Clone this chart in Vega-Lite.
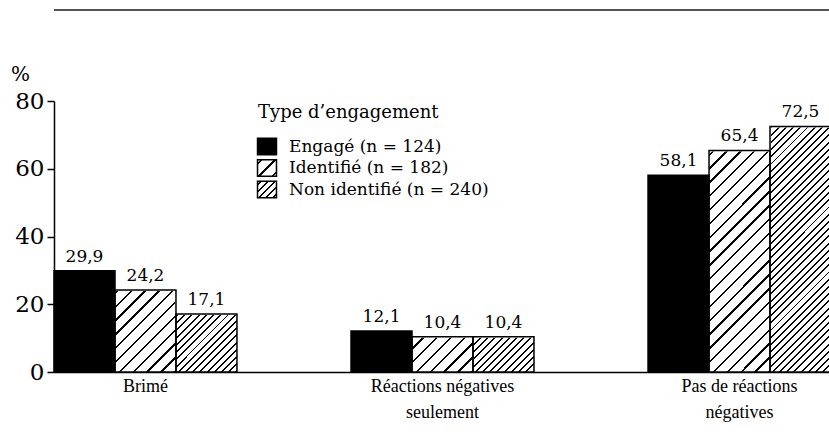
{
  "$schema": "https://vega.github.io/schema/vega-lite/v6.json",
  "width": 777,
  "height": 271,
  "autosize": {"type": "none"},
  "padding": {"left": 54, "top": 101, "right": 0, "bottom": 72},
  "background": "white",
  "config": {
    "view": {"stroke": null},
    "locale": {"number": {"decimal": ",", "thousands": " ", "grouping": [3], "currency": ["", " €"]}}
  },
  "data": {"values": [
    {"cat": "Brimé", "series": "Engagé (n = 124)", "value": 29.9},
    {"cat": "Brimé", "series": "Identifié (n = 182)", "value": 24.2},
    {"cat": "Brimé", "series": "Non identifié (n = 240)", "value": 17.1},
    {"cat": "Réactions négatives seulement", "series": "Engagé (n = 124)", "value": 12.1},
    {"cat": "Réactions négatives seulement", "series": "Identifié (n = 182)", "value": 10.4},
    {"cat": "Réactions négatives seulement", "series": "Non identifié (n = 240)", "value": 10.4},
    {"cat": "Pas de réactions négatives", "series": "Engagé (n = 124)", "value": 58.1},
    {"cat": "Pas de réactions négatives", "series": "Identifié (n = 182)", "value": 65.4},
    {"cat": "Pas de réactions négatives", "series": "Non identifié (n = 240)", "value": 72.5}
  ]},
  "layer": [
    {
      "transform": [{"filter": "datum.series === 'Identifié (n = 182)'"}],
      "mark": {"type": "bar", "fill": {"gradient": "linear", "x1": 0, "y1": 0, "x2": 0.2625, "y2": 1.166, "stops": [
        {"offset": 0, "color": "#fff"},
        {"offset": 0.0346, "color": "#fff"}, {"offset": 0.0346, "color": "#000"}, {"offset": 0.0417, "color": "#000"}, {"offset": 0.0417, "color": "#fff"},
        {"offset": 0.0763, "color": "#fff"}, {"offset": 0.0763, "color": "#000"}, {"offset": 0.0833, "color": "#000"}, {"offset": 0.0833, "color": "#fff"},
        {"offset": 0.1180, "color": "#fff"}, {"offset": 0.1180, "color": "#000"}, {"offset": 0.1250, "color": "#000"}, {"offset": 0.1250, "color": "#fff"},
        {"offset": 0.1596, "color": "#fff"}, {"offset": 0.1596, "color": "#000"}, {"offset": 0.1667, "color": "#000"}, {"offset": 0.1667, "color": "#fff"},
        {"offset": 0.2013, "color": "#fff"}, {"offset": 0.2013, "color": "#000"}, {"offset": 0.2083, "color": "#000"}, {"offset": 0.2083, "color": "#fff"},
        {"offset": 0.2430, "color": "#fff"}, {"offset": 0.2430, "color": "#000"}, {"offset": 0.2500, "color": "#000"}, {"offset": 0.2500, "color": "#fff"},
        {"offset": 0.2846, "color": "#fff"}, {"offset": 0.2846, "color": "#000"}, {"offset": 0.2917, "color": "#000"}, {"offset": 0.2917, "color": "#fff"},
        {"offset": 0.3263, "color": "#fff"}, {"offset": 0.3263, "color": "#000"}, {"offset": 0.3333, "color": "#000"}, {"offset": 0.3333, "color": "#fff"},
        {"offset": 0.3680, "color": "#fff"}, {"offset": 0.3680, "color": "#000"}, {"offset": 0.3750, "color": "#000"}, {"offset": 0.3750, "color": "#fff"},
        {"offset": 0.4096, "color": "#fff"}, {"offset": 0.4096, "color": "#000"}, {"offset": 0.4167, "color": "#000"}, {"offset": 0.4167, "color": "#fff"},
        {"offset": 0.4513, "color": "#fff"}, {"offset": 0.4513, "color": "#000"}, {"offset": 0.4583, "color": "#000"}, {"offset": 0.4583, "color": "#fff"},
        {"offset": 0.4930, "color": "#fff"}, {"offset": 0.4930, "color": "#000"}, {"offset": 0.5000, "color": "#000"}, {"offset": 0.5000, "color": "#fff"},
        {"offset": 0.5346, "color": "#fff"}, {"offset": 0.5346, "color": "#000"}, {"offset": 0.5417, "color": "#000"}, {"offset": 0.5417, "color": "#fff"},
        {"offset": 0.5763, "color": "#fff"}, {"offset": 0.5763, "color": "#000"}, {"offset": 0.5833, "color": "#000"}, {"offset": 0.5833, "color": "#fff"},
        {"offset": 0.6180, "color": "#fff"}, {"offset": 0.6180, "color": "#000"}, {"offset": 0.6250, "color": "#000"}, {"offset": 0.6250, "color": "#fff"},
        {"offset": 0.6596, "color": "#fff"}, {"offset": 0.6596, "color": "#000"}, {"offset": 0.6667, "color": "#000"}, {"offset": 0.6667, "color": "#fff"},
        {"offset": 0.7013, "color": "#fff"}, {"offset": 0.7013, "color": "#000"}, {"offset": 0.7083, "color": "#000"}, {"offset": 0.7083, "color": "#fff"},
        {"offset": 0.7430, "color": "#fff"}, {"offset": 0.7430, "color": "#000"}, {"offset": 0.7500, "color": "#000"}, {"offset": 0.7500, "color": "#fff"},
        {"offset": 0.7846, "color": "#fff"}, {"offset": 0.7846, "color": "#000"}, {"offset": 0.7917, "color": "#000"}, {"offset": 0.7917, "color": "#fff"},
        {"offset": 0.8263, "color": "#fff"}, {"offset": 0.8263, "color": "#000"}, {"offset": 0.8333, "color": "#000"}, {"offset": 0.8333, "color": "#fff"},
        {"offset": 0.8680, "color": "#fff"}, {"offset": 0.8680, "color": "#000"}, {"offset": 0.8750, "color": "#000"}, {"offset": 0.8750, "color": "#fff"},
        {"offset": 0.9096, "color": "#fff"}, {"offset": 0.9096, "color": "#000"}, {"offset": 0.9167, "color": "#000"}, {"offset": 0.9167, "color": "#fff"},
        {"offset": 0.9513, "color": "#fff"}, {"offset": 0.9513, "color": "#000"}, {"offset": 0.9583, "color": "#000"}, {"offset": 0.9583, "color": "#fff"},
        {"offset": 0.9930, "color": "#fff"}, {"offset": 0.9930, "color": "#000"}, {"offset": 1, "color": "#000"}
      ]}},
      "encoding": {
        "x": {"field": "cat", "type": "nominal", "scale": {"domain": ["Brimé", "Réactions négatives seulement", "Pas de réactions négatives"], "paddingInner": 0.384, "paddingOuter": 0},
          "axis": {"title": null, "ticks": false, "labelAngle": 0, "labelFont": "Liberation Serif", "labelFontSize": 18, "labelColor": "black", "labelPadding": 5, "labelLineHeight": 26, "domainColor": "black", "domainWidth": 1.5,
            "labelExpr": "datum.value === 'Réactions négatives seulement' ? ['Réactions négatives', 'seulement'] : datum.value === 'Pas de réactions négatives' ? ['Pas de réactions', 'négatives'] : datum.value"}},
        "xOffset": {"field": "series", "type": "nominal", "scale": {"domain": ["Engagé (n = 124)", "Identifié (n = 182)", "Non identifié (n = 240)"]}},
        "y": {"datum": 0, "type": "quantitative", "scale": {"domain": [0, 80], "nice": false},
          "axis": {"title": "%", "titleAngle": 0, "titleX": -34, "titleY": -27, "titleAlign": "center", "titleBaseline": "middle", "titleFont": "DejaVu Serif", "titleFontSize": 20, "titleFontWeight": "normal", "titleColor": "black",
            "values": [0, 20, 40, 60, 80], "labelFont": "DejaVu Serif", "labelFontSize": 23, "labelColor": "black", "labelPadding": 3, "labelFlush": false, "labelOverlap": false,
            "tickSize": 7, "tickColor": "black", "tickWidth": 1.5, "domainColor": "black", "domainWidth": 1.5, "grid": false}},
        "y2": {"datum": 80}
      }
    },
    {
      "transform": [{"filter": "datum.series === 'Non identifié (n = 240)'"}],
      "mark": {"type": "bar", "fill": {"gradient": "linear", "x1": 0, "y1": 0, "x2": 0.2625, "y2": 1.166, "stops": [
        {"offset": 0, "color": "#fff"},
        {"offset": 0.0159, "color": "#fff"}, {"offset": 0.0159, "color": "#000"}, {"offset": 0.0217, "color": "#000"}, {"offset": 0.0217, "color": "#fff"},
        {"offset": 0.0376, "color": "#fff"}, {"offset": 0.0376, "color": "#000"}, {"offset": 0.0435, "color": "#000"}, {"offset": 0.0435, "color": "#fff"},
        {"offset": 0.0593, "color": "#fff"}, {"offset": 0.0593, "color": "#000"}, {"offset": 0.0652, "color": "#000"}, {"offset": 0.0652, "color": "#fff"},
        {"offset": 0.0811, "color": "#fff"}, {"offset": 0.0811, "color": "#000"}, {"offset": 0.0870, "color": "#000"}, {"offset": 0.0870, "color": "#fff"},
        {"offset": 0.1028, "color": "#fff"}, {"offset": 0.1028, "color": "#000"}, {"offset": 0.1087, "color": "#000"}, {"offset": 0.1087, "color": "#fff"},
        {"offset": 0.1246, "color": "#fff"}, {"offset": 0.1246, "color": "#000"}, {"offset": 0.1304, "color": "#000"}, {"offset": 0.1304, "color": "#fff"},
        {"offset": 0.1463, "color": "#fff"}, {"offset": 0.1463, "color": "#000"}, {"offset": 0.1522, "color": "#000"}, {"offset": 0.1522, "color": "#fff"},
        {"offset": 0.1680, "color": "#fff"}, {"offset": 0.1680, "color": "#000"}, {"offset": 0.1739, "color": "#000"}, {"offset": 0.1739, "color": "#fff"},
        {"offset": 0.1898, "color": "#fff"}, {"offset": 0.1898, "color": "#000"}, {"offset": 0.1957, "color": "#000"}, {"offset": 0.1957, "color": "#fff"},
        {"offset": 0.2115, "color": "#fff"}, {"offset": 0.2115, "color": "#000"}, {"offset": 0.2174, "color": "#000"}, {"offset": 0.2174, "color": "#fff"},
        {"offset": 0.2333, "color": "#fff"}, {"offset": 0.2333, "color": "#000"}, {"offset": 0.2391, "color": "#000"}, {"offset": 0.2391, "color": "#fff"},
        {"offset": 0.2550, "color": "#fff"}, {"offset": 0.2550, "color": "#000"}, {"offset": 0.2609, "color": "#000"}, {"offset": 0.2609, "color": "#fff"},
        {"offset": 0.2767, "color": "#fff"}, {"offset": 0.2767, "color": "#000"}, {"offset": 0.2826, "color": "#000"}, {"offset": 0.2826, "color": "#fff"},
        {"offset": 0.2985, "color": "#fff"}, {"offset": 0.2985, "color": "#000"}, {"offset": 0.3043, "color": "#000"}, {"offset": 0.3043, "color": "#fff"},
        {"offset": 0.3202, "color": "#fff"}, {"offset": 0.3202, "color": "#000"}, {"offset": 0.3261, "color": "#000"}, {"offset": 0.3261, "color": "#fff"},
        {"offset": 0.3420, "color": "#fff"}, {"offset": 0.3420, "color": "#000"}, {"offset": 0.3478, "color": "#000"}, {"offset": 0.3478, "color": "#fff"},
        {"offset": 0.3637, "color": "#fff"}, {"offset": 0.3637, "color": "#000"}, {"offset": 0.3696, "color": "#000"}, {"offset": 0.3696, "color": "#fff"},
        {"offset": 0.3854, "color": "#fff"}, {"offset": 0.3854, "color": "#000"}, {"offset": 0.3913, "color": "#000"}, {"offset": 0.3913, "color": "#fff"},
        {"offset": 0.4072, "color": "#fff"}, {"offset": 0.4072, "color": "#000"}, {"offset": 0.4130, "color": "#000"}, {"offset": 0.4130, "color": "#fff"},
        {"offset": 0.4289, "color": "#fff"}, {"offset": 0.4289, "color": "#000"}, {"offset": 0.4348, "color": "#000"}, {"offset": 0.4348, "color": "#fff"},
        {"offset": 0.4507, "color": "#fff"}, {"offset": 0.4507, "color": "#000"}, {"offset": 0.4565, "color": "#000"}, {"offset": 0.4565, "color": "#fff"},
        {"offset": 0.4724, "color": "#fff"}, {"offset": 0.4724, "color": "#000"}, {"offset": 0.4783, "color": "#000"}, {"offset": 0.4783, "color": "#fff"},
        {"offset": 0.4941, "color": "#fff"}, {"offset": 0.4941, "color": "#000"}, {"offset": 0.5000, "color": "#000"}, {"offset": 0.5000, "color": "#fff"},
        {"offset": 0.5159, "color": "#fff"}, {"offset": 0.5159, "color": "#000"}, {"offset": 0.5217, "color": "#000"}, {"offset": 0.5217, "color": "#fff"},
        {"offset": 0.5376, "color": "#fff"}, {"offset": 0.5376, "color": "#000"}, {"offset": 0.5435, "color": "#000"}, {"offset": 0.5435, "color": "#fff"},
        {"offset": 0.5593, "color": "#fff"}, {"offset": 0.5593, "color": "#000"}, {"offset": 0.5652, "color": "#000"}, {"offset": 0.5652, "color": "#fff"},
        {"offset": 0.5811, "color": "#fff"}, {"offset": 0.5811, "color": "#000"}, {"offset": 0.5870, "color": "#000"}, {"offset": 0.5870, "color": "#fff"},
        {"offset": 0.6028, "color": "#fff"}, {"offset": 0.6028, "color": "#000"}, {"offset": 0.6087, "color": "#000"}, {"offset": 0.6087, "color": "#fff"},
        {"offset": 0.6246, "color": "#fff"}, {"offset": 0.6246, "color": "#000"}, {"offset": 0.6304, "color": "#000"}, {"offset": 0.6304, "color": "#fff"},
        {"offset": 0.6463, "color": "#fff"}, {"offset": 0.6463, "color": "#000"}, {"offset": 0.6522, "color": "#000"}, {"offset": 0.6522, "color": "#fff"},
        {"offset": 0.6680, "color": "#fff"}, {"offset": 0.6680, "color": "#000"}, {"offset": 0.6739, "color": "#000"}, {"offset": 0.6739, "color": "#fff"},
        {"offset": 0.6898, "color": "#fff"}, {"offset": 0.6898, "color": "#000"}, {"offset": 0.6957, "color": "#000"}, {"offset": 0.6957, "color": "#fff"},
        {"offset": 0.7115, "color": "#fff"}, {"offset": 0.7115, "color": "#000"}, {"offset": 0.7174, "color": "#000"}, {"offset": 0.7174, "color": "#fff"},
        {"offset": 0.7333, "color": "#fff"}, {"offset": 0.7333, "color": "#000"}, {"offset": 0.7391, "color": "#000"}, {"offset": 0.7391, "color": "#fff"},
        {"offset": 0.7550, "color": "#fff"}, {"offset": 0.7550, "color": "#000"}, {"offset": 0.7609, "color": "#000"}, {"offset": 0.7609, "color": "#fff"},
        {"offset": 0.7767, "color": "#fff"}, {"offset": 0.7767, "color": "#000"}, {"offset": 0.7826, "color": "#000"}, {"offset": 0.7826, "color": "#fff"},
        {"offset": 0.7985, "color": "#fff"}, {"offset": 0.7985, "color": "#000"}, {"offset": 0.8043, "color": "#000"}, {"offset": 0.8043, "color": "#fff"},
        {"offset": 0.8202, "color": "#fff"}, {"offset": 0.8202, "color": "#000"}, {"offset": 0.8261, "color": "#000"}, {"offset": 0.8261, "color": "#fff"},
        {"offset": 0.8420, "color": "#fff"}, {"offset": 0.8420, "color": "#000"}, {"offset": 0.8478, "color": "#000"}, {"offset": 0.8478, "color": "#fff"},
        {"offset": 0.8637, "color": "#fff"}, {"offset": 0.8637, "color": "#000"}, {"offset": 0.8696, "color": "#000"}, {"offset": 0.8696, "color": "#fff"},
        {"offset": 0.8854, "color": "#fff"}, {"offset": 0.8854, "color": "#000"}, {"offset": 0.8913, "color": "#000"}, {"offset": 0.8913, "color": "#fff"},
        {"offset": 0.9072, "color": "#fff"}, {"offset": 0.9072, "color": "#000"}, {"offset": 0.9130, "color": "#000"}, {"offset": 0.9130, "color": "#fff"},
        {"offset": 0.9289, "color": "#fff"}, {"offset": 0.9289, "color": "#000"}, {"offset": 0.9348, "color": "#000"}, {"offset": 0.9348, "color": "#fff"},
        {"offset": 0.9507, "color": "#fff"}, {"offset": 0.9507, "color": "#000"}, {"offset": 0.9565, "color": "#000"}, {"offset": 0.9565, "color": "#fff"},
        {"offset": 0.9724, "color": "#fff"}, {"offset": 0.9724, "color": "#000"}, {"offset": 0.9783, "color": "#000"}, {"offset": 0.9783, "color": "#fff"},
        {"offset": 0.9941, "color": "#fff"}, {"offset": 0.9941, "color": "#000"}, {"offset": 1, "color": "#000"}
      ]}},
      "encoding": {
        "x": {"field": "cat", "type": "nominal", "scale": {"domain": ["Brimé", "Réactions négatives seulement", "Pas de réactions négatives"], "paddingInner": 0.384, "paddingOuter": 0}},
        "xOffset": {"field": "series", "type": "nominal", "scale": {"domain": ["Engagé (n = 124)", "Identifié (n = 182)", "Non identifié (n = 240)"]}},
        "y": {"datum": 0, "type": "quantitative", "scale": {"domain": [0, 80], "nice": false}},
        "y2": {"datum": 80}
      }
    },
    {
      "transform": [{"filter": "datum.series !== 'Engagé (n = 124)'"}],
      "mark": {"type": "bar", "fill": "white", "stroke": "white", "strokeWidth": 2},
      "encoding": {
        "x": {"field": "cat", "type": "nominal", "scale": {"domain": ["Brimé", "Réactions négatives seulement", "Pas de réactions négatives"], "paddingInner": 0.384, "paddingOuter": 0}},
        "xOffset": {"field": "series", "type": "nominal", "scale": {"domain": ["Engagé (n = 124)", "Identifié (n = 182)", "Non identifié (n = 240)"]}},
        "y": {"field": "value", "type": "quantitative", "scale": {"domain": [0, 80], "nice": false}},
        "y2": {"datum": 80}
      }
    },
    {
      "mark": {"type": "bar", "stroke": "black", "strokeWidth": 1.5},
      "encoding": {
        "x": {"field": "cat", "type": "nominal", "scale": {"domain": ["Brimé", "Réactions négatives seulement", "Pas de réactions négatives"], "paddingInner": 0.384, "paddingOuter": 0}},
        "xOffset": {"field": "series", "type": "nominal", "scale": {"domain": ["Engagé (n = 124)", "Identifié (n = 182)", "Non identifié (n = 240)"]}},
        "y": {"field": "value", "type": "quantitative", "scale": {"domain": [0, 80], "nice": false}},
        "fillOpacity": {"condition": {"test": "datum.series === 'Engagé (n = 124)'", "value": 1}, "value": 0},
        "color": {"field": "series", "type": "nominal",
          "scale": {"domain": ["Engagé (n = 124)", "Identifié (n = 182)", "Non identifié (n = 240)"],
            "range": [
              "#000",
              {"expr": "{gradient: 'linear', x1: 0, y1: 0, x2: 1.065, y2: 0.925, stops: [{offset: 0, color: '#fff'}, {offset: 0.10, color: '#fff'}, {offset: 0.10, color: '#000'}, {offset: 0.16, color: '#000'}, {offset: 0.16, color: '#fff'}, {offset: 0.47, color: '#fff'}, {offset: 0.47, color: '#000'}, {offset: 0.53, color: '#000'}, {offset: 0.53, color: '#fff'}, {offset: 0.84, color: '#fff'}, {offset: 0.84, color: '#000'}, {offset: 0.90, color: '#000'}, {offset: 0.90, color: '#fff'}, {offset: 1, color: '#fff'}]}"},
              {"expr": "{gradient: 'linear', x1: 0, y1: 0, x2: 1.065, y2: 0.925, stops: [{offset: 0, color: '#fff'}, {offset: 0.075, color: '#fff'}, {offset: 0.075, color: '#000'}, {offset: 0.125, color: '#000'}, {offset: 0.125, color: '#fff'}, {offset: 0.275, color: '#fff'}, {offset: 0.275, color: '#000'}, {offset: 0.325, color: '#000'}, {offset: 0.325, color: '#fff'}, {offset: 0.475, color: '#fff'}, {offset: 0.475, color: '#000'}, {offset: 0.525, color: '#000'}, {offset: 0.525, color: '#fff'}, {offset: 0.675, color: '#fff'}, {offset: 0.675, color: '#000'}, {offset: 0.725, color: '#000'}, {offset: 0.725, color: '#fff'}, {offset: 0.875, color: '#fff'}, {offset: 0.875, color: '#000'}, {offset: 0.925, color: '#000'}, {offset: 0.925, color: '#fff'}, {offset: 1, color: '#fff'}]}"}
            ]},
          "legend": {"orient": "none", "legendX": 204, "legendY": 3, "padding": 0, "zindex": 1,
            "title": "Type d’engagement", "titleFont": "DejaVu Serif", "titleFontSize": 18, "titleFontWeight": "normal", "titleColor": "black", "titlePadding": 15.5, "titleLimit": 500,
            "labelFont": "DejaVu Serif", "labelFontSize": 17, "labelColor": "black", "labelOffset": 13, "labelLimit": 400,
            "symbolType": "M-1.15,-1H1.15V1H-1.15Z", "symbolSize": 272, "symbolStrokeColor": "black", "symbolStrokeWidth": 1.5, "rowPadding": -2.5,
            "encode": {"symbols": {"update": {"fillOpacity": {"value": 1}, "opacity": {"value": 1}}}}}
        }
      }
    },
    {
      "mark": {"type": "text", "baseline": "alphabetic", "dy": -9, "font": "DejaVu Serif", "fontSize": 17, "color": "black"},
      "encoding": {
        "x": {"field": "cat", "type": "nominal", "scale": {"domain": ["Brimé", "Réactions négatives seulement", "Pas de réactions négatives"], "paddingInner": 0.384, "paddingOuter": 0}},
        "xOffset": {"field": "series", "type": "nominal", "scale": {"domain": ["Engagé (n = 124)", "Identifié (n = 182)", "Non identifié (n = 240)"]}},
        "y": {"field": "value", "type": "quantitative", "scale": {"domain": [0, 80], "nice": false}},
        "text": {"field": "value", "type": "quantitative", "format": ".1f"}
      }
    },
    {
      "data": {"values": [{"line": "top"}]},
      "mark": {"type": "rule", "color": "#555555", "strokeWidth": 2},
      "encoding": {
        "y": {"datum": 106.9, "type": "quantitative", "scale": {"domain": [0, 80], "nice": false}}
      }
    }
  ]
}
